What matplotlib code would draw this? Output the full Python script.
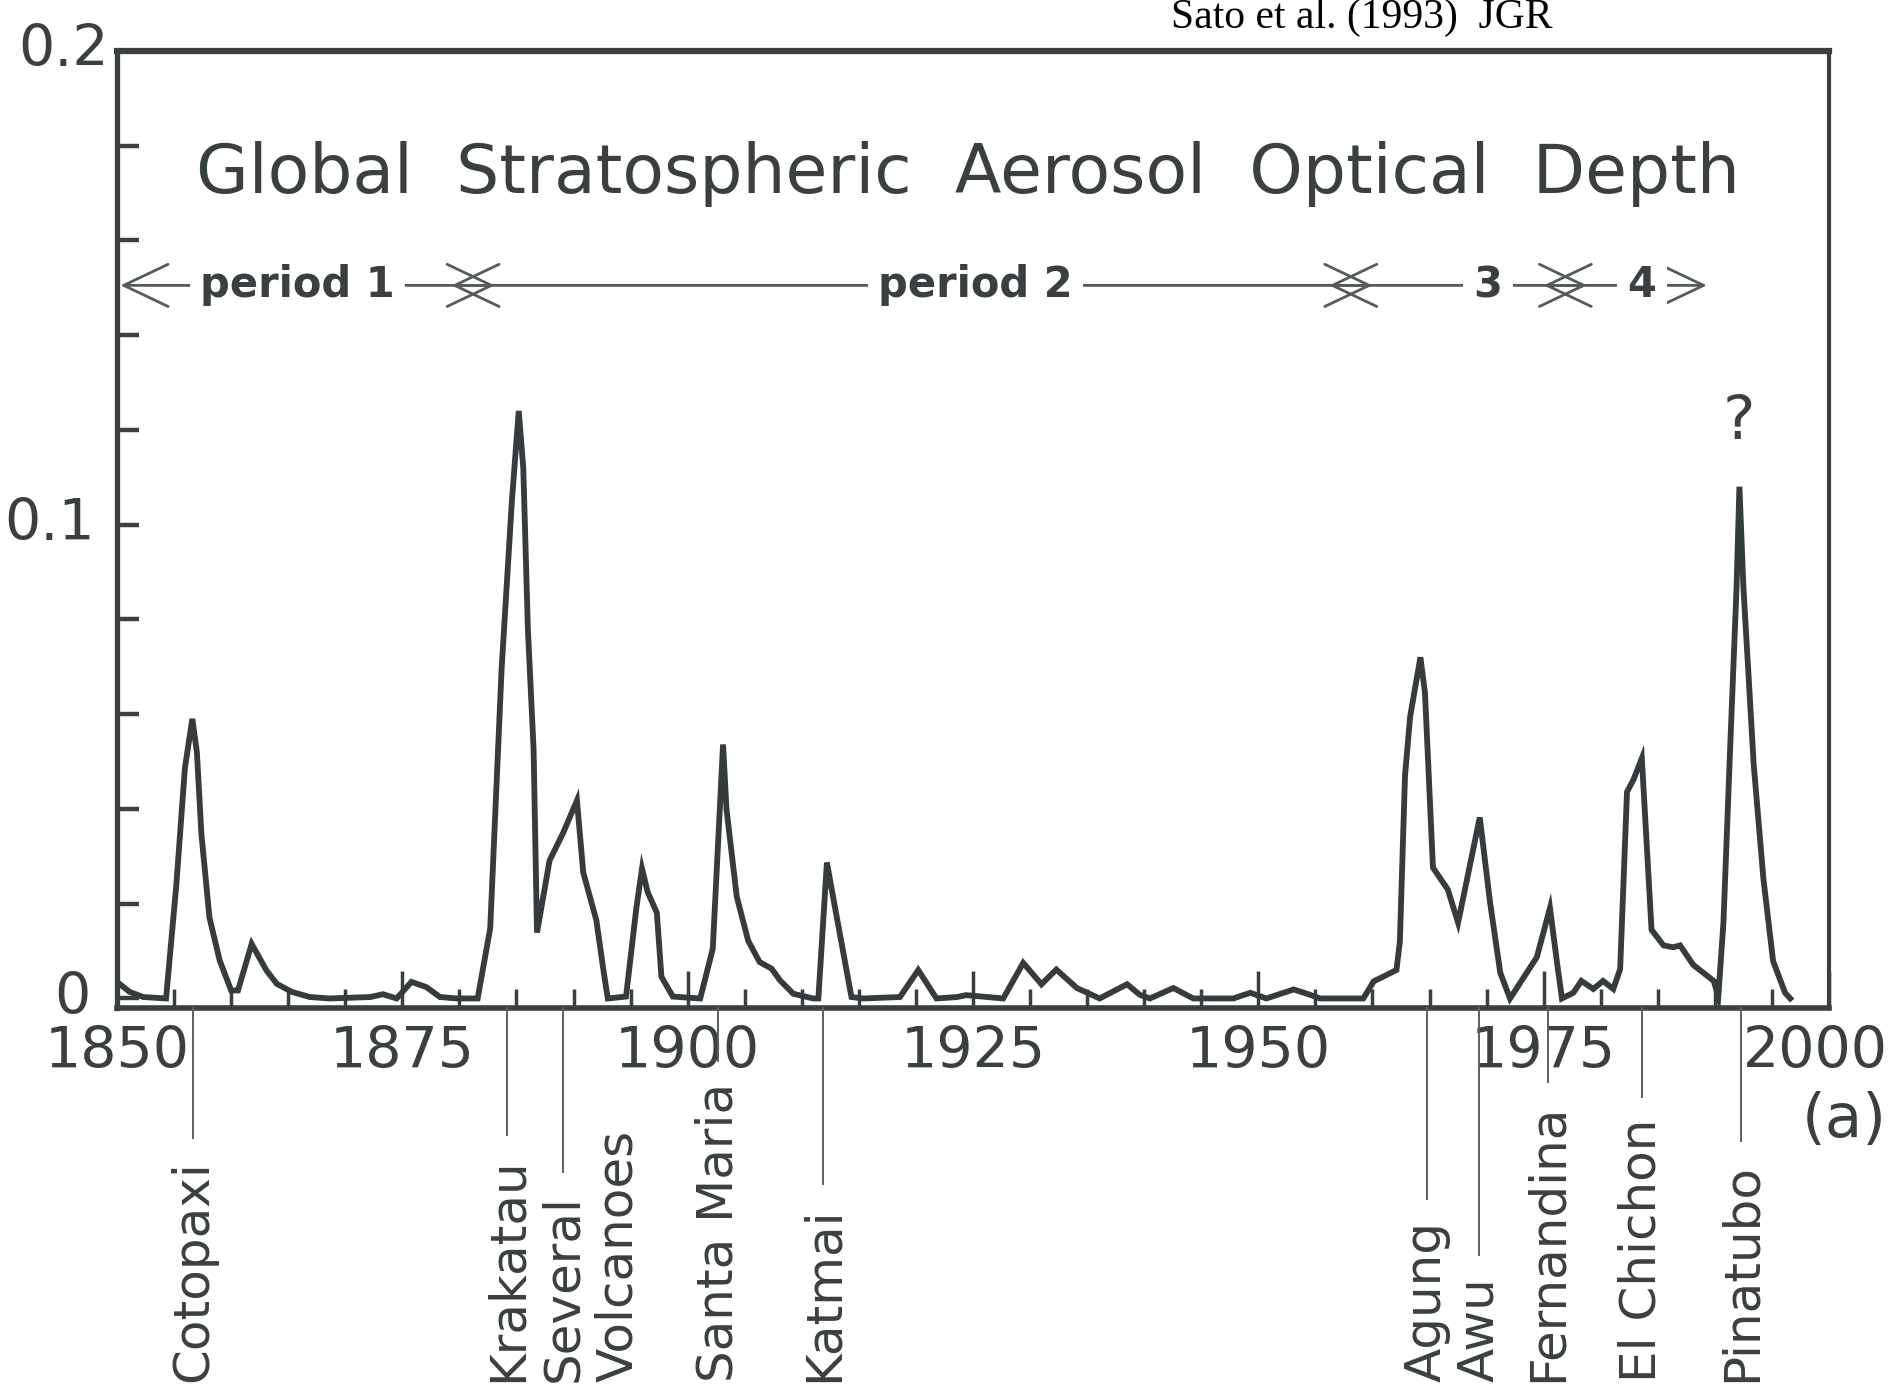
#!/usr/bin/env python3
"""
Global stratospheric aerosol optical depth 1850-2000 (after Sato et al. 1993)
Scanned-figure redraw
"""
import numpy as np
import matplotlib.pyplot as plt
import matplotlib.transforms as mtransforms
from matplotlib.lines import Line2D

# optical depth (year, tau)
years = [1850.0, 1851.1, 1852.3, 1854.3, 1855.2, 1855.95, 1856.6, 1857.0, 1857.4,
         1858.1, 1859.0, 1860.0, 1860.6, 1861.8, 1863.1, 1864.0, 1865.3, 1866.9,
         1868.6, 1872.2, 1873.3, 1874.5, 1875.8, 1877.1, 1878.3, 1879.8, 1881.6,
         1882.7, 1883.7, 1884.6, 1885.2, 1885.6, 1886.0, 1886.5, 1886.8, 1887.9,
         1889.1, 1890.3, 1890.85, 1892.0, 1892.6, 1893.0, 1894.6, 1895.5, 1896.0,
         1896.5, 1897.3, 1897.7, 1898.7, 1901.1, 1902.2, 1903.1, 1903.4, 1904.3,
         1905.3, 1906.3, 1907.35, 1908.1, 1909.25, 1911.0, 1911.45, 1912.2, 1912.75,
         1913.6, 1914.35, 1915.4, 1918.6, 1920.2, 1921.8, 1923.6, 1924.4, 1927.65,
         1929.4, 1931.0, 1932.3, 1934.1, 1936.1, 1938.5, 1939.6, 1940.5, 1942.55,
         1944.3, 1947.8, 1949.3, 1950.7, 1953.1, 1954.5, 1955.4, 1959.2, 1960.1,
         1962.1, 1962.4, 1962.85, 1963.3, 1964.2, 1964.6, 1965.3, 1966.6, 1967.5,
         1969.4, 1970.3, 1971.2, 1972.05, 1974.4, 1975.55, 1976.15, 1976.6, 1977.6,
         1978.3, 1979.35, 1980.2, 1981.1, 1981.7, 1982.3, 1982.85, 1983.6, 1984.45,
         1985.5, 1986.35, 1986.95, 1988.1, 1989.9, 1990.3, 1990.75, 1991.35, 1991.9,
         1992.15, 1992.5, 1993.4, 1994.25, 1995.1, 1996.15, 1996.6]
tau = [0.0035, 0.0014, 0.0003, 0.0, 0.024, 0.0486, 0.059, 0.052, 0.0346,
       0.0171, 0.008, 0.0017, 0.0017, 0.0115, 0.0059, 0.0031, 0.0014, 0.0003,
       0.0, 0.0003, 0.0009, 0.0, 0.0035, 0.0024, 0.0003, 0.0, 0.0,
       0.0148, 0.0696, 0.105, 0.124, 0.1118, 0.078, 0.0527, 0.0139, 0.0291,
       0.035, 0.0418, 0.0266, 0.0165, 0.0063, 0.0, 0.0004, 0.019, 0.0274,
       0.0224, 0.0181, 0.0046, 0.0004, 0.0, 0.0105, 0.0536, 0.040, 0.0215,
       0.0122, 0.0077, 0.0063, 0.0038, 0.001, 0.0, 0.0, 0.0287, 0.0213,
       0.0101, 0.0003, 0.0, 0.0003, 0.006, 0.0, 0.0003, 0.0007, 0.0,
       0.0075, 0.003, 0.0061, 0.0022, 0.0, 0.003, 0.0008, 0.0, 0.0022,
       0.0, 0.0, 0.0012, 0.0, 0.0019, 0.0008, 0.0, 0.0, 0.0036,
       0.006, 0.012, 0.047, 0.0595, 0.072, 0.0645, 0.0276, 0.023, 0.016,
       0.0382, 0.0203, 0.0054, 0.0, 0.0087, 0.0191, 0.0079, 0.0, 0.0012,
       0.0037, 0.002, 0.0037, 0.002, 0.0062, 0.0436, 0.0461, 0.0507, 0.0145,
       0.0112, 0.0108, 0.0112, 0.0071, 0.0037, 0.0004, 0.016, 0.0536, 0.0868,
       0.108, 0.0868, 0.0494, 0.0253, 0.0079, 0.0012, 0.0]

# eruptions marked under the axis
volcano_names = ['Cotopaxi', 'Krakatau', 'Several\nVolcanoes', 'Santa Maria', 'Katmai',
                 'Agung', 'Awu', 'Fernandina', 'El Chichon', 'Pinatubo']
volcano_years = [1856.7, 1884.2, 1889.1, 1902.7, 1911.9,
                 1964.75, 1969.3, 1975.35, 1983.6, 1992.3]

# analysis periods (arrow row)
period_bounds = [1850.3, 1881.2, 1958.1, 1976.9, 1989.3]
period_labels = ['period 1', 'period 2', '3', '4']
period_label_x = [1865.8, 1925.2, 1970.1, 1983.6]

xtick_years = [1850, 1875, 1900, 1925, 1950, 1975, 2000]
ytick_values = [0.0, 0.1, 0.2]
ytick_labels = ['0', '0.1', '0.2']

INK = '#3a3f41'
W, H = 1893, 1397

fig = plt.figure(figsize=(W / 100, H / 100), dpi=100)
ax = fig.add_axes([0.0618, 0.2785, 0.9044, 0.6851])

ax.plot(years, tau, color='#363b3d', linewidth=4.2, solid_joinstyle='miter')

ax.set_xlim(1850, 2000)
ax.set_ylim(-0.002, 0.2)

for side, lw in [('top', 4.5), ('left', 3.8), ('right', 3.0), ('bottom', 4.0)]:
    ax.spines[side].set_linewidth(lw)
    ax.spines[side].set_color(INK)

ax.set_xticks(xtick_years)
ax.set_xticks(np.arange(1850, 2001, 5), minor=True)
ax.set_xticklabels([str(y) for y in xtick_years])
ax.tick_params(axis='x', which='major', direction='in', length=27, width=2.5,
               pad=12, labelsize=41, colors=INK)
ax.tick_params(axis='x', which='minor', direction='in', length=14, width=2.5,
               colors=INK)
ax.set_yticks(np.arange(0, 0.201, 0.02))
ax.tick_params(axis='y', which='major', direction='in', length=16, width=3.2,
               labelleft=False, colors=INK)

# the last year label sits a bit inside the right edge, as in the scan
last_lbl = ax.get_xticklabels()[-1]
last_lbl.set_transform(last_lbl.get_transform()
                       + mtransforms.ScaledTranslation(-0.14, 0, fig.dpi_scale_trans))

# y labels sit a little irregularly in the scan
ytrans = mtransforms.blended_transform_factory(fig.transFigure, ax.transData)
ylab_right = [0.048, 0.05, 0.0576]
for val, lab, xr in zip(ytick_values, ytick_labels, ylab_right):
    fig.text(xr, val, lab, transform=ytrans, ha='right', va='center',
             fontsize=41, color=INK)

# title inside the frame
ax.text(1924.6, 0.1700, 'Global  Stratospheric  Aerosol  Optical  Depth',
        ha='center', va='baseline', fontsize=49, color=INK)

# period arrows; heads overshoot each boundary so they cross as an X
row_y = 0.1505
overshoot = 1.9
last = len(period_labels) - 1
for i, lab in enumerate(period_labels):
    x0 = period_bounds[i] - (overshoot if i > 0 else 0)
    x1 = period_bounds[i + 1] + (overshoot if i < last else 0)
    ax.annotate('', xy=(x1, row_y), xytext=(x0, row_y),
                arrowprops=dict(arrowstyle='<->,head_length=0.8,head_width=0.38',
                                lw=2.0, color='#555b5d', shrinkA=0, shrinkB=0,
                                mutation_scale=40))
    ax.text(period_label_x[i], row_y, lab, ha='center', va='center', fontsize=30,
            fontweight='bold', color=INK,
            bbox=dict(boxstyle='square,pad=0.25', fc='white', ec='none'))

ax.text(1992.1, 0.1216, '?', ha='center', va='center', fontsize=44, color=INK)

fig.text(0.974, 0.198, '(a)', ha='center', va='center', fontsize=44, color=INK)
fig.text(0.7195, 0.98, 'Sato et al. (1993)  JGR', ha='center', va='baseline',
         fontsize=30, family='Liberation Serif', color='black')

# volcano names below the axis, with thin pointer lines
label_texts = []
for name, yr in zip(volcano_names, volcano_years):
    xd = ax.transData.transform((yr, 0))[0]
    parts = []
    for k, part in enumerate(name.split('\n')):
        t = fig.text((xd + k * 55) / W, 15 / H, part, rotation=90, ha='center',
                     va='bottom', fontsize=36, color=INK)
        parts.append(t)
    label_texts.append((xd, parts[0]))

fig.canvas.draw()
renderer = fig.canvas.get_renderer()
axis_bottom = ax.get_window_extent(renderer).y0
for xd, t in label_texts:
    top = t.get_window_extent(renderer).y1 + 22
    fig.add_artist(Line2D([xd / W, xd / W], [axis_bottom / H, top / H],
                          transform=fig.transFigure, lw=1.4, color='#5a6062'))

fig.savefig('out.png', dpi=100)
